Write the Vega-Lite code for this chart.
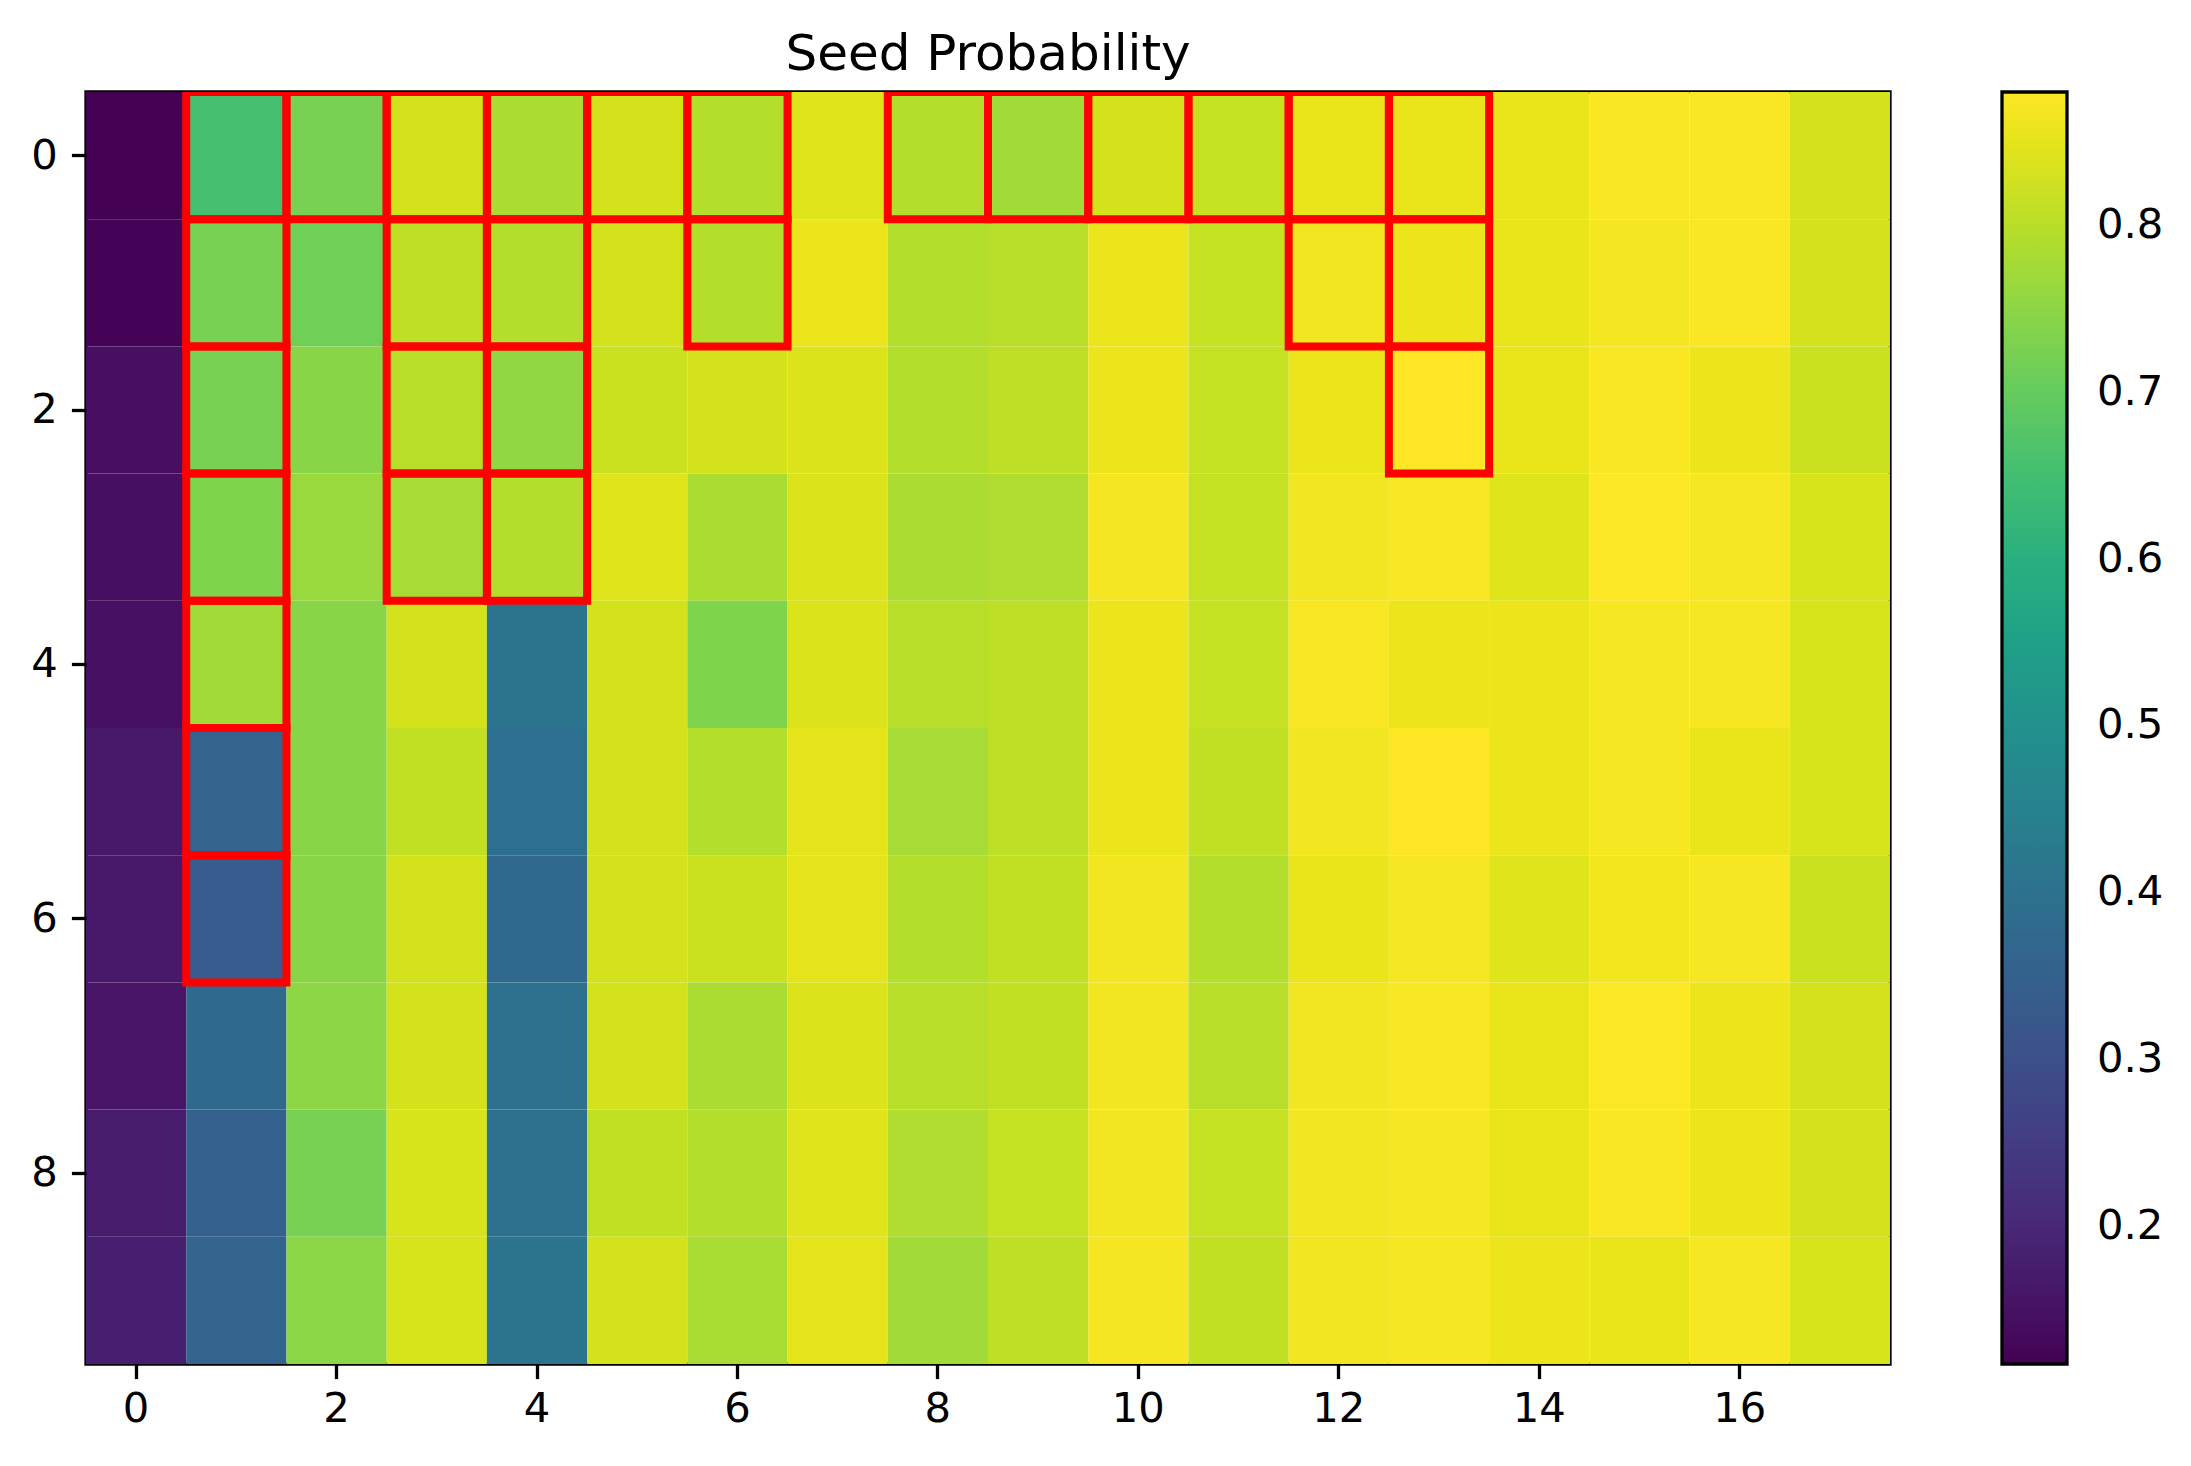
{
  "$schema": "https://vega.github.io/schema/vega-lite/v6.json",
  "autosize": {"type": "none"},
  "width": 1804,
  "height": 1272,
  "padding": {"left": 86, "top": 92, "right": 301, "bottom": 102},
  "background": "white",
  "title": {"text": "Seed Probability", "fontSize": 50, "font": "DejaVu Sans", "fontWeight": "normal", "color": "black", "anchor": "middle", "frame": "group", "baseline": "alphabetic", "offset": -28},
  "datasets": {
    "cells": [
      {"r":0,"c":0,"v":0.117},{"r":1,"c":0,"v":0.12},{"r":2,"c":0,"v":0.143},{"r":3,"c":0,"v":0.145},{"r":4,"c":0,"v":0.148},{"r":5,"c":0,"v":0.165},{"r":6,"c":0,"v":0.165},{"r":7,"c":0,"v":0.158},{"r":8,"c":0,"v":0.172},{"r":9,"c":0,"v":0.18},
      {"r":0,"c":1,"v":0.655},{"r":1,"c":1,"v":0.725},{"r":2,"c":1,"v":0.725},{"r":3,"c":1,"v":0.735},{"r":4,"c":1,"v":0.775},{"r":5,"c":1,"v":0.355},{"r":6,"c":1,"v":0.335},{"r":7,"c":1,"v":0.37},{"r":8,"c":1,"v":0.35},{"r":9,"c":1,"v":0.36},
      {"r":0,"c":2,"v":0.725},{"r":1,"c":2,"v":0.715},{"r":2,"c":2,"v":0.745},{"r":3,"c":2,"v":0.765},{"r":4,"c":2,"v":0.745},{"r":5,"c":2,"v":0.745},{"r":6,"c":2,"v":0.745},{"r":7,"c":2,"v":0.75},{"r":8,"c":2,"v":0.725},{"r":9,"c":2,"v":0.748},
      {"r":0,"c":3,"v":0.83},{"r":1,"c":3,"v":0.805},{"r":2,"c":3,"v":0.8},{"r":3,"c":3,"v":0.78},{"r":4,"c":3,"v":0.83},{"r":5,"c":3,"v":0.81},{"r":6,"c":3,"v":0.83},{"r":7,"c":3,"v":0.83},{"r":8,"c":3,"v":0.835},{"r":9,"c":3,"v":0.835},
      {"r":0,"c":4,"v":0.785},{"r":1,"c":4,"v":0.795},{"r":2,"c":4,"v":0.755},{"r":3,"c":4,"v":0.795},{"r":4,"c":4,"v":0.405},{"r":5,"c":4,"v":0.395},{"r":6,"c":4,"v":0.37},{"r":7,"c":4,"v":0.4},{"r":8,"c":4,"v":0.4},{"r":9,"c":4,"v":0.405},
      {"r":0,"c":5,"v":0.83},{"r":1,"c":5,"v":0.83},{"r":2,"c":5,"v":0.82},{"r":3,"c":5,"v":0.845},{"r":4,"c":5,"v":0.83},{"r":5,"c":5,"v":0.83},{"r":6,"c":5,"v":0.83},{"r":7,"c":5,"v":0.83},{"r":8,"c":5,"v":0.81},{"r":9,"c":5,"v":0.83},
      {"r":0,"c":6,"v":0.795},{"r":1,"c":6,"v":0.795},{"r":2,"c":6,"v":0.83},{"r":3,"c":6,"v":0.785},{"r":4,"c":6,"v":0.735},{"r":5,"c":6,"v":0.795},{"r":6,"c":6,"v":0.82},{"r":7,"c":6,"v":0.785},{"r":8,"c":6,"v":0.795},{"r":9,"c":6,"v":0.782},
      {"r":0,"c":7,"v":0.845},{"r":1,"c":7,"v":0.86},{"r":2,"c":7,"v":0.84},{"r":3,"c":7,"v":0.84},{"r":4,"c":7,"v":0.84},{"r":5,"c":7,"v":0.85},{"r":6,"c":7,"v":0.85},{"r":7,"c":7,"v":0.84},{"r":8,"c":7,"v":0.845},{"r":9,"c":7,"v":0.85},
      {"r":0,"c":8,"v":0.795},{"r":1,"c":8,"v":0.795},{"r":2,"c":8,"v":0.795},{"r":3,"c":8,"v":0.785},{"r":4,"c":8,"v":0.8},{"r":5,"c":8,"v":0.78},{"r":6,"c":8,"v":0.795},{"r":7,"c":8,"v":0.8},{"r":8,"c":8,"v":0.79},{"r":9,"c":8,"v":0.775},
      {"r":0,"c":9,"v":0.775},{"r":1,"c":9,"v":0.8},{"r":2,"c":9,"v":0.805},{"r":3,"c":9,"v":0.79},{"r":4,"c":9,"v":0.805},{"r":5,"c":9,"v":0.805},{"r":6,"c":9,"v":0.81},{"r":7,"c":9,"v":0.81},{"r":8,"c":9,"v":0.815},{"r":9,"c":9,"v":0.805},
      {"r":0,"c":10,"v":0.83},{"r":1,"c":10,"v":0.86},{"r":2,"c":10,"v":0.86},{"r":3,"c":10,"v":0.87},{"r":4,"c":10,"v":0.86},{"r":5,"c":10,"v":0.86},{"r":6,"c":10,"v":0.865},{"r":7,"c":10,"v":0.865},{"r":8,"c":10,"v":0.865},{"r":9,"c":10,"v":0.87},
      {"r":0,"c":11,"v":0.815},{"r":1,"c":11,"v":0.815},{"r":2,"c":11,"v":0.815},{"r":3,"c":11,"v":0.815},{"r":4,"c":11,"v":0.815},{"r":5,"c":11,"v":0.81},{"r":6,"c":11,"v":0.795},{"r":7,"c":11,"v":0.8},{"r":8,"c":11,"v":0.815},{"r":9,"c":11,"v":0.81},
      {"r":0,"c":12,"v":0.855},{"r":1,"c":12,"v":0.865},{"r":2,"c":12,"v":0.86},{"r":3,"c":12,"v":0.865},{"r":4,"c":12,"v":0.875},{"r":5,"c":12,"v":0.865},{"r":6,"c":12,"v":0.855},{"r":7,"c":12,"v":0.865},{"r":8,"c":12,"v":0.865},{"r":9,"c":12,"v":0.865},
      {"r":0,"c":13,"v":0.855},{"r":1,"c":13,"v":0.86},{"r":2,"c":13,"v":0.88},{"r":3,"c":13,"v":0.875},{"r":4,"c":13,"v":0.86},{"r":5,"c":13,"v":0.88},{"r":6,"c":13,"v":0.873},{"r":7,"c":13,"v":0.875},{"r":8,"c":13,"v":0.873},{"r":9,"c":13,"v":0.873},
      {"r":0,"c":14,"v":0.855},{"r":1,"c":14,"v":0.855},{"r":2,"c":14,"v":0.855},{"r":3,"c":14,"v":0.845},{"r":4,"c":14,"v":0.86},{"r":5,"c":14,"v":0.86},{"r":6,"c":14,"v":0.845},{"r":7,"c":14,"v":0.855},{"r":8,"c":14,"v":0.855},{"r":9,"c":14,"v":0.86},
      {"r":0,"c":15,"v":0.875},{"r":1,"c":15,"v":0.868},{"r":2,"c":15,"v":0.875},{"r":3,"c":15,"v":0.877},{"r":4,"c":15,"v":0.873},{"r":5,"c":15,"v":0.873},{"r":6,"c":15,"v":0.867},{"r":7,"c":15,"v":0.877},{"r":8,"c":15,"v":0.875},{"r":9,"c":15,"v":0.855},
      {"r":0,"c":16,"v":0.875},{"r":1,"c":16,"v":0.875},{"r":2,"c":16,"v":0.86},{"r":3,"c":16,"v":0.873},{"r":4,"c":16,"v":0.873},{"r":5,"c":16,"v":0.855},{"r":6,"c":16,"v":0.873},{"r":7,"c":16,"v":0.86},{"r":8,"c":16,"v":0.86},{"r":9,"c":16,"v":0.873},
      {"r":0,"c":17,"v":0.83},{"r":1,"c":17,"v":0.83},{"r":2,"c":17,"v":0.82},{"r":3,"c":17,"v":0.835},{"r":4,"c":17,"v":0.835},{"r":5,"c":17,"v":0.835},{"r":6,"c":17,"v":0.82},{"r":7,"c":17,"v":0.83},{"r":8,"c":17,"v":0.83},{"r":9,"c":17,"v":0.835}
    ],
    "boxes": [
      {"r":0,"c":1},{"r":0,"c":2},{"r":0,"c":3},{"r":0,"c":4},{"r":0,"c":5},{"r":0,"c":6},{"r":0,"c":8},{"r":0,"c":9},{"r":0,"c":10},{"r":0,"c":11},{"r":0,"c":12},{"r":0,"c":13},
      {"r":1,"c":1},{"r":1,"c":3},{"r":1,"c":4},{"r":1,"c":6},{"r":1,"c":12},{"r":1,"c":13},
      {"r":2,"c":1},{"r":2,"c":3},{"r":2,"c":4},{"r":2,"c":13},
      {"r":3,"c":1},{"r":3,"c":3},{"r":3,"c":4},
      {"r":4,"c":1},{"r":5,"c":1},{"r":6,"c":1}
    ]
  },
  "encoding": {
    "x": {"field": "c", "type": "ordinal", "scale": {"domain": [0,1,2,3,4,5,6,7,8,9,10,11,12,13,14,15,16,17], "paddingInner": 0, "paddingOuter": 0},
      "axis": {"title": null, "values": [0,2,4,6,8,10,12,14,16], "labelAngle": 0, "labelPadding": 10}},
    "y": {"field": "r", "type": "ordinal", "scale": {"domain": [0,1,2,3,4,5,6,7,8,9], "paddingInner": 0, "paddingOuter": 0},
      "axis": {"title": null, "values": [0,2,4,6,8], "labelPadding": 14}}
  },
  "layer": [
    {
      "data": {"name": "cells"},
      "mark": {"type": "rect", "strokeWidth": 0},
      "encoding": {
        "color": {"field": "v", "type": "quantitative",
          "scale": {"scheme": "viridis", "domain": [0.117, 0.88], "nice": false, "zero": false},
          "legend": {"title": null, "values": [0.2,0.3,0.4,0.5,0.6,0.7,0.8], "format": ".1f", "gradientLength": 1272, "gradientThickness": 65, "gradientStrokeColor": "black", "gradientStrokeWidth": 3.3, "labelOffset": 30, "labelFontSize": 41.7, "labelFont": "DejaVu Sans", "labelColor": "black", "offset": 112, "padding": 0, "labelOverlap": false}
        }
      }
    },
    {
      "data": {"name": "boxes"},
      "mark": {"type": "rect", "filled": false, "color": "red", "stroke": "red", "strokeWidth": 8, "clip": true},
      "encoding": {}
    }
  ],
  "config": {
    "view": {"stroke": "black", "strokeWidth": 3.3},
    "axis": {"domain": false, "grid": false, "ticks": true, "tickColor": "black", "tickSize": 14.6, "tickWidth": 3.3, "labelFont": "DejaVu Sans", "labelFontSize": 41.7, "labelColor": "black"},
    "legend": {"orient": "right"}
  }
}
